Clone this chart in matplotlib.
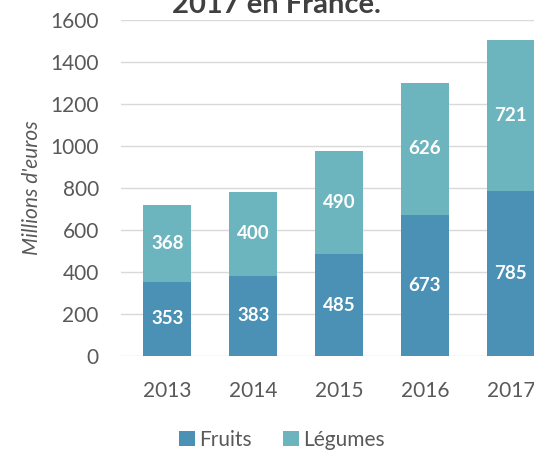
import matplotlib
matplotlib.use("Agg")
import matplotlib.pyplot as plt
import numpy as np

years = ["2013", "2014", "2015", "2016", "2017"]
fruits = [353, 383, 485, 673, 785]
legumes = [368, 400, 490, 626, 721]
yticks = [0, 200, 400, 600, 800, 1000, 1200, 1400, 1600]

c_fruits = "#4A91B5"
c_legumes = "#6CB5BE"
gray = "#595959"
plt.rcParams['font.family'] = ['Lato', 'DejaVu Sans']

fig = plt.figure(figsize=(5.34, 4.5), dpi=100)
ax = fig.add_axes([121/534, 1 - 356/450, 1 - 121/534, 336/450])

x = np.arange(len(years))
w = 0.56
b1 = ax.bar(x, fruits, w, color=c_fruits, label="Fruits", zorder=3)
b2 = ax.bar(x, legumes, w, bottom=fruits, color=c_legumes, label="Légumes", zorder=3)

for i in range(len(years)):
    ax.text(x[i], fruits[i] / 2, str(fruits[i]), ha="center", va="center",
            color="white", fontsize=13.5, fontweight="bold", zorder=4)
    ax.text(x[i], fruits[i] + legumes[i] / 2, str(legumes[i]), ha="center", va="center",
            color="white", fontsize=13.5, fontweight="bold", zorder=4)

ax.set_ylim(0, 1600)
ax.set_xlim(-0.54, 4.27)
ax.set_yticks(yticks)
ax.set_xticks(x)
ax.set_xticklabels(years)
ax.tick_params(axis="both", length=0, colors=gray, labelsize=15)
ax.tick_params(axis="x", pad=18)
ax.tick_params(axis="y", pad=16)
ax.grid(axis="y", color="#D9D9D9", linewidth=1, zorder=0)
for s in ax.spines.values():
    s.set_visible(False)

ax.set_ylabel("Millions d'euros", fontsize=15, style="italic", color=gray, labelpad=6)

fig.text(276/534, 1 - 13/450, "2017 en France.", ha="center", va="baseline",
         fontsize=21, fontweight="bold", color="#404040")

fig.legend(handles=[b1, b2], labels=["Fruits", "Légumes"], loc="center",
           bbox_to_anchor=(282/534, 1 - 440/450), ncol=2, frameon=False,
           fontsize=15, labelcolor=gray, handlelength=0.75, handleheight=0.75,
           handletextpad=0.2, columnspacing=1.5)

fig.savefig("out.png", dpi=100)
